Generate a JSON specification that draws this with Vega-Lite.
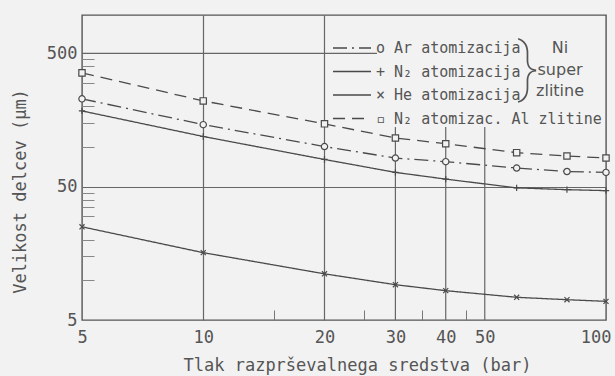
{
  "$schema": "https://vega.github.io/schema/vega-lite/v6.json",
  "width": 524,
  "height": 305,
  "autosize": {"type": "none"},
  "padding": {"left": 82, "top": 15, "right": 9, "bottom": 56},
  "background": "#f2f2f2",
  "config": {
    "font": "DejaVu Sans Mono",
    "view": {"stroke": "#555555", "strokeWidth": 1.4}
  },
  "datasets": {
    "curves": [
      {"series": "N₂ atomizac. Al zlitine", "pressure": 5, "size": 357},
      {"series": "N₂ atomizac. Al zlitine", "pressure": 10, "size": 220},
      {"series": "N₂ atomizac. Al zlitine", "pressure": 20, "size": 148},
      {"series": "N₂ atomizac. Al zlitine", "pressure": 30, "size": 116},
      {"series": "N₂ atomizac. Al zlitine", "pressure": 40, "size": 105},
      {"series": "N₂ atomizac. Al zlitine", "pressure": 60, "size": 90},
      {"series": "N₂ atomizac. Al zlitine", "pressure": 80, "size": 85},
      {"series": "N₂ atomizac. Al zlitine", "pressure": 100, "size": 82},
      {"series": "Ar atomizacija", "pressure": 5, "size": 228},
      {"series": "Ar atomizacija", "pressure": 10, "size": 146},
      {"series": "Ar atomizacija", "pressure": 20, "size": 100},
      {"series": "Ar atomizacija", "pressure": 30, "size": 82},
      {"series": "Ar atomizacija", "pressure": 40, "size": 77},
      {"series": "Ar atomizacija", "pressure": 60, "size": 69},
      {"series": "Ar atomizacija", "pressure": 80, "size": 65},
      {"series": "Ar atomizacija", "pressure": 100, "size": 64},
      {"series": "N₂ atomizacija", "pressure": 5, "size": 185},
      {"series": "N₂ atomizacija", "pressure": 10, "size": 119},
      {"series": "N₂ atomizacija", "pressure": 20, "size": 80},
      {"series": "N₂ atomizacija", "pressure": 30, "size": 64},
      {"series": "N₂ atomizacija", "pressure": 40, "size": 57},
      {"series": "N₂ atomizacija", "pressure": 60, "size": 49},
      {"series": "N₂ atomizacija", "pressure": 80, "size": 47.5},
      {"series": "N₂ atomizacija", "pressure": 100, "size": 46.7},
      {"series": "He atomizacija", "pressure": 5, "size": 25},
      {"series": "He atomizacija", "pressure": 10, "size": 16},
      {"series": "He atomizacija", "pressure": 20, "size": 11.1},
      {"series": "He atomizacija", "pressure": 30, "size": 9.2},
      {"series": "He atomizacija", "pressure": 40, "size": 8.3},
      {"series": "He atomizacija", "pressure": 60, "size": 7.4},
      {"series": "He atomizacija", "pressure": 80, "size": 7.1},
      {"series": "He atomizacija", "pressure": 100, "size": 6.9}
    ],
    "notes": [
      {"pressure": 76.9, "size": 550, "note": "Ni"},
      {"pressure": 76.9, "size": 376, "note": "super"},
      {"pressure": 76.9, "size": 262, "note": "zlitine"}
    ]
  },
  "layer": [
    {
      "data": {"values": [{"pressure": 30}, {"pressure": 40}, {"pressure": 50}]},
      "mark": {"type": "rule", "color": "#666666", "strokeWidth": 1.2},
      "encoding": {
        "x": {"field": "pressure", "type": "quantitative", "scale": {"type": "log", "domain": [5, 100], "nice": false}},
        "y": {"datum": 5, "type": "quantitative", "scale": {"type": "log", "domain": [5, 970], "nice": false}},
        "y2": {"datum": 140}
      }
    },
    {
      "data": {"values": [{"size": 500}]},
      "mark": {"type": "rule", "color": "#666666", "strokeWidth": 1.2},
      "encoding": {
        "y": {"field": "size", "type": "quantitative", "scale": {"type": "log", "domain": [5, 970], "nice": false}},
        "x": {"datum": 5, "type": "quantitative", "scale": {"type": "log", "domain": [5, 100], "nice": false}},
        "x2": {"datum": 27}
      }
    },
    {
      "data": {"name": "curves"},
      "mark": {"type": "line", "color": "#4a4a4a", "strokeWidth": 1.3},
      "encoding": {
        "x": {
          "field": "pressure", "type": "quantitative",
          "scale": {"type": "log", "domain": [5, 100], "nice": false},
          "axis": {
            "values": [5, 10, 15, 20, 25, 30, 35, 40, 45, 50, 100],
            "labelExpr": "indexof([5,10,20,30,40,50,100], datum.value) >= 0 ? datum.value + '' : ''",
            "title": "Tlak razprševalnega sredstva (bar)",
            "domain": false,
            "grid": true,
            "gridColor": "#666666",
            "gridWidth": 1.2,
            "gridOpacity": {"condition": {"test": "datum.value == 10 || datum.value == 20", "value": 1}, "value": 0},
            "ticks": true,
            "tickColor": "#777777",
            "tickWidth": 1,
            "tickSize": {"condition": {"test": "indexof([15,25,35,45], datum.value) >= 0", "value": -10}, "value": 0},
            "labelFontSize": 17,
            "labelColor": "#555555",
            "labelPadding": 9,
            "labelFlush": true,
            "labelFlushOffset": 5,
            "labelOverlap": false,
            "titleFontSize": 17,
            "titleFontWeight": "normal",
            "titleColor": "#555555",
            "titleX": 275,
            "titleY": 50,
            "titleAlign": "center",
            "titleBaseline": "alphabetic"
          }
        },
        "y": {
          "field": "size", "type": "quantitative",
          "scale": {"type": "log", "domain": [5, 970], "nice": false},
          "axis": {
            "values": [5, 10, 15, 20, 30, 35, 40, 45, 50, 100, 150, 200, 300, 400, 450, 500],
            "labelExpr": "indexof([5,50,500], datum.value) >= 0 ? datum.value + '' : ''",
            "title": "Velikost delcev (µm)",
            "domain": false,
            "grid": true,
            "gridColor": "#666666",
            "gridWidth": 1.2,
            "gridOpacity": {"condition": {"test": "datum.value == 50", "value": 1}, "value": 0},
            "ticks": true,
            "tickColor": "#888888",
            "tickWidth": 1,
            "tickSize": {"condition": {"test": "indexof([5,50,500], datum.value) < 0", "value": -12}, "value": 0},
            "labelFontSize": 17,
            "labelColor": "#555555",
            "labelPadding": 5,
            "labelOverlap": false,
            "titleFontSize": 17,
            "titleFontWeight": "normal",
            "titleColor": "#555555",
            "titleX": -62,
            "titleY": 176,
            "titleAlign": "center",
            "titleBaseline": "middle",
            "titleAngle": -90
          }
        },
        "strokeDash": {
          "field": "series", "type": "nominal",
          "scale": {
            "domain": ["Ar atomizacija", "N₂ atomizacija", "He atomizacija", "N₂ atomizac. Al zlitine"],
            "range": [[14, 5, 2, 5], [1, 0], [1, 0], [12, 7]]
          },
          "legend": {
            "orient": "none", "legendX": 250, "legendY": 24.5, "title": null, "padding": 0,
            "symbolType": "stroke", "symbolSize": 1444, "symbolStrokeWidth": 1.3, "symbolStrokeColor": "#4a4a4a",
            "labelExpr": "(datum.label == 'Ar atomizacija' ? 'o' : datum.label == 'He atomizacija' ? '×' : datum.label == 'N₂ atomizacija' ? '+' : '▫') + ' ' + datum.label",
            "labelFont": "DejaVu Sans Mono",
            "labelFontSize": 15, "labelColor": "#555555", "labelOffset": 4, "labelLimit": 320,
            "clipHeight": 17, "rowPadding": 6.5
          }
        }
      }
    },
    {
      "data": {"name": "curves"},
      "mark": {"type": "point", "filled": false, "fill": "#f2f2f2", "color": "#4a4a4a", "strokeWidth": 1.2, "size": 40, "opacity": 1},
      "encoding": {
        "x": {"field": "pressure", "type": "quantitative", "scale": {"type": "log", "domain": [5, 100], "nice": false}},
        "y": {"field": "size", "type": "quantitative", "scale": {"type": "log", "domain": [5, 970], "nice": false}},
        "shape": {
          "field": "series", "type": "nominal",
          "scale": {
            "range": ["circle", "M-0.8,-0.8L0.8,0.8M0.8,-0.8L-0.8,0.8", "square", "M-1,0L1,0M0,-1L0,1"]
          },
          "legend": null
        }
      }
    },
    {
      "data": {"name": "notes"},
      "mark": {"type": "text", "font": "DejaVu Sans", "fontSize": 16, "color": "#555555", "align": "center", "baseline": "middle"},
      "encoding": {
        "x": {"field": "pressure", "type": "quantitative", "scale": {"type": "log", "domain": [5, 100], "nice": false}},
        "y": {"field": "size", "type": "quantitative", "scale": {"type": "log", "domain": [5, 970], "nice": false}},
        "text": {"field": "note"}
      }
    },
    {
      "data": {"values": [{"pressure": 64, "size": 376, "brace": "}"}]},
      "mark": {"type": "text", "font": "Roboto", "fontWeight": 100, "fontSize": 64, "color": "#555555", "align": "center", "baseline": "middle"},
      "encoding": {
        "x": {"field": "pressure", "type": "quantitative", "scale": {"type": "log", "domain": [5, 100], "nice": false}},
        "y": {"field": "size", "type": "quantitative", "scale": {"type": "log", "domain": [5, 970], "nice": false}},
        "text": {"field": "brace"}
      }
    }
  ]
}
